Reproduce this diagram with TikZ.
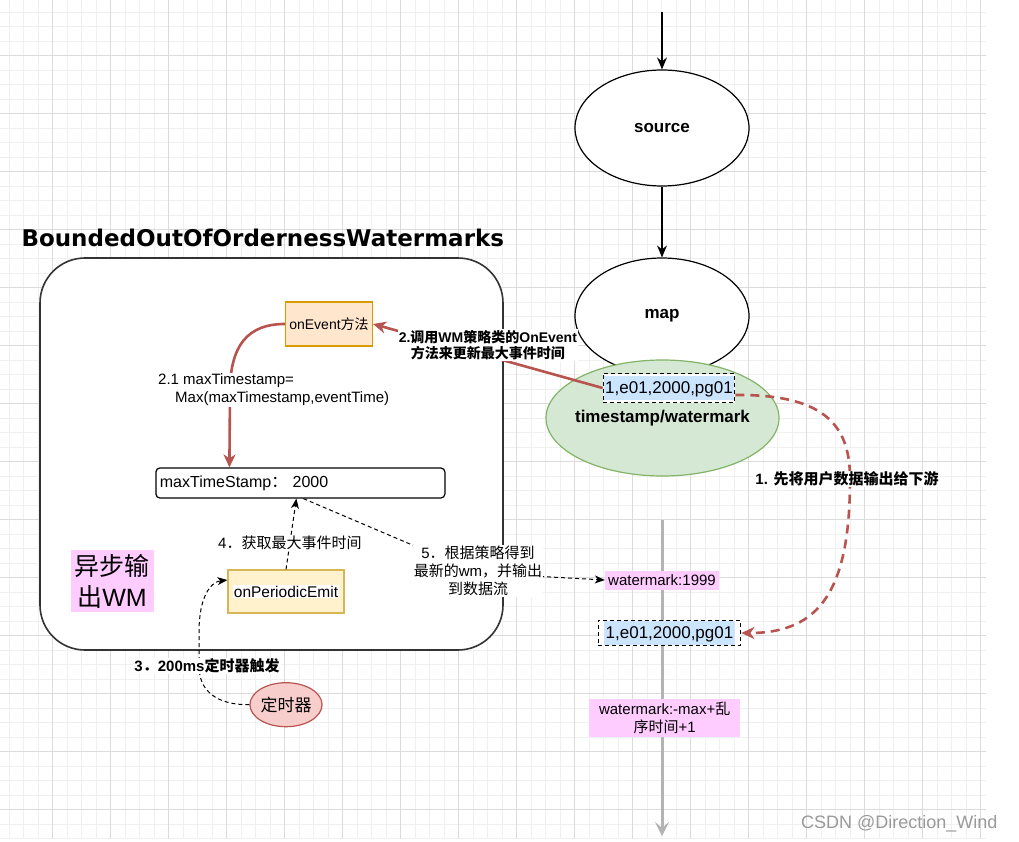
\documentclass[tikz,border=0pt]{standalone}
\usepackage{fontspec}
\setmainfont{Liberation Sans}
\newfontfamily\cjk{Noto Sans CJK SC}
\newfontfamily\titlefont{DejaVu Sans}
\usetikzlibrary{arrows.meta,shapes.geometric}
\definecolor{wmRed}{HTML}{B85450}
\definecolor{wmRedFill}{HTML}{F8CECC}
\definecolor{wmGreen}{HTML}{82B366}
\definecolor{wmGreenFill}{HTML}{D5E8D4}
\definecolor{wmOrange}{HTML}{D79B00}
\definecolor{wmOrangeFill}{HTML}{FFE6CC}
\definecolor{wmYellow}{HTML}{D6B656}
\definecolor{wmYellowFill}{HTML}{FFF2CC}
\definecolor{wmBlue}{HTML}{CCE5FF}
\definecolor{wmPink}{HTML}{FFCCFF}
\definecolor{wmGray}{HTML}{B3B3B3}
\newcommand{\fsz}[2]{\fontsize{#1}{#2}\selectfont}
\newcommand{\zh}[1]{{\cjk #1}}
\newcommand{\recval}[1]{{\setlength{\fboxsep}{1.5pt}\colorbox{wmBlue}{\rule[-5.5pt]{0pt}{21pt}#1}}}
\begin{document}
\begin{tikzpicture}[x=1pt, y=-1pt]
% Grid background as exported from the editor
\def\minorsz{14.5pt}
\def\majorsz{58pt}
\providecommand{\wmGridMinorColor}{black!6}
\providecommand{\wmGridMajorColor}{black!14}
\tikzset{
  flowell/.style={ellipse, draw=black, line width=1.2pt, fill=white, minimum width=174pt, minimum height=116pt, inner sep=0pt, font=\bfseries\fsz{17}{20}},
  recbox/.style={draw=black, dash pattern=on 4pt off 3pt, line width=1.1pt, fill=white, inner sep=0.5pt, font=\fsz{17}{20}},
  wmbox/.style={fill=wmPink, inner sep=0pt, align=center, font=\fsz{15}{18}},
  edgelbl/.style={fill=white, inner sep=1pt, align=center, font=\fsz{15}{18}},
  redarrow/.style={draw=wmRed, line width=2.6pt, -{Stealth[length=13pt,width=12pt,inset=4pt]}},
  reddash/.style={redarrow, dash pattern=on 9pt off 6pt},
  dasharrow/.style={draw=black, line width=1pt, dash pattern=on 4pt off 3pt, -{Stealth[length=10pt,width=8pt,inset=3pt]}},
  flowarrow/.style={draw=black, line width=1.3pt, -{Stealth[length=12pt,width=10pt,inset=4pt]}},
}
\useasboundingbox (0,0) rectangle (1019,842);
\begin{scope}
  \clip (0,838) rectangle (986,0);
  \draw[\wmGridMinorColor, line width=0.8pt, shift={(9.2,12.2)}, step=\minorsz] (-14.5,850) grid (990,-14.5);
  \draw[\wmGridMajorColor, line width=0.9pt, shift={(52.7,55.7)}, step=\majorsz] (-58,850) grid (990,-58);
\end{scope}
% Strategy container
\node[draw=black!80, line width=1.6pt, fill=white, rounded corners=45pt, minimum width=463pt, minimum height=392pt] (bounded) at (271.5,454) {};
\node[anchor=west, font=\titlefont\bfseries\fsz{23}{27}] (title) at (18,238) {BoundedOutOfOrdernessWatermarks};
% Output stream
\coordinate (tltop) at (662,520);
\coordinate (tlend) at (662,836);
\draw[wmGray, line width=3pt, -{Stealth[length=14pt,width=14pt,inset=6pt]}] (tltop) -- (tlend);
% Operators
\coordinate (entry) at (662,12);
\node[flowell] (source) at (662,128) {source};
\node[flowell] (map) at (662,316) {map};
\node[flowell, draw=wmGreen, fill=wmGreenFill, minimum width=233pt, label={[font=\bfseries\fsz{17}{20}]center:timestamp/watermark}] (tsw) at (662.5,418) {};
\node[recbox, inner ysep=2.5pt] (rec1) at (669,388) {\recval{1,e01,2000,pg01}};
\node[recbox, inner xsep=6pt] (rec2) at (669.5,633) {\recval{1,e01,2000,pg01}};
\node[wmbox, minimum width=114pt, minimum height=19pt] (wm1) at (662,580) {watermark:1999};
\node[wmbox, minimum width=151pt, minimum height=38pt] (wm2) at (664.7,718) {watermark:-max+\zh{乱}\\\zh{序时间}+1};
% Inside the strategy
\node[draw=wmOrange, fill=wmOrangeFill, line width=1.2pt, minimum width=87pt, minimum height=44pt, inner sep=0pt, font=\fsz{14}{17}] (onevent) at (329,324) {onEvent\zh{方法}};
\node[draw=black, line width=1.2pt, rounded corners=4pt, minimum width=289pt, minimum height=30pt, text width=281pt, inner xsep=4pt, align=left, font=\fsz{16}{19}] (mts) at (300.4,483) {maxTimeStamp\zh{：} 2000};
\node[draw=wmYellow, fill=wmYellowFill, line width=1.2pt, minimum width=116pt, minimum height=43pt, inner sep=0pt, font=\fsz{15.5}{18}] (onpe) at (286,591.5) {{\setlength{\fboxsep}{1pt}\colorbox{white}{onPeriodicEmit}}};
\node[fill=wmPink, minimum width=83pt, minimum height=62pt, inner sep=0pt, align=center, font=\fsz{25}{31}] (async) at (112,581) {\zh{异步输}\\\zh{出}WM};
\node[ellipse, draw=wmRed, fill=wmRedFill, line width=1.2pt, minimum width=66pt, minimum height=44pt, inner sep=0pt, font=\fsz{17}{20}] (timer) at (286,704.7) {\zh{定时器}};
% Connectors
\draw[flowarrow] (entry) -- (source);
\draw[flowarrow] (source) -- (map);
\draw[redarrow] (rec1.west) -- node[edgelbl, yshift=11pt, font=\bfseries\fsz{14}{16.5}] (lbl2) {2.\zh{调用}WM\zh{策略类的}OnEvent\\\zh{方法来更新最大事件时间}} (onevent.east);
\draw[redarrow] (onevent.west) .. controls (248,324) and (230,345) .. (230,392) -- ([xshift=-71pt]mts.north);
\node[edgelbl, anchor=west, align=left] (lbl21) at (157,390) {2.1 maxTimestamp=\\\hspace*{17pt}Max(maxTimestamp,eventTime)};
\draw[reddash] ([yshift=-7pt]rec1.east) .. controls (830,394) and (850,430) .. (850,479) node[edgelbl, xshift=-3pt, font=\bfseries\fsz{15}{18}] (lbl1) {1. \zh{先将用户数据输出给下游}} .. controls (850,590) and (820,633) .. (rec2.east);
\draw[dasharrow] (timer.west) .. controls (218,705) and (199,692) .. (199,666) node[edgelbl, xshift=8pt, font=\bfseries\fsz{15}{18}] (lbl3) {3\zh{．}200ms\zh{定时器触发}} -- (199,632) .. controls (199,598) and (210,582) .. ([yshift=11.5pt]onpe.west);
\draw[dasharrow] (onpe.north) -- node[edgelbl, pos=0.37] (lbl4) {4\zh{．获取最大事件时间}} ([xshift=-4pt]mts.south);
\coordinate (bend5) at (478,573);
\draw[dasharrow] ([xshift=3pt]mts.south) -- (bend5) -- (wm1.west);
\node[edgelbl] (lbl5) at (478,571) {5\zh{．根据策略得到}\\\zh{最新的}wm\zh{，并输出}\\\zh{到数据流}};
% Source mark
\node[anchor=west, text=black!40, inner sep=0pt, font=\fsz{18}{21}] (mark) at (801,824) {CSDN @Direction\_Wind};
\end{tikzpicture}
\end{document}
